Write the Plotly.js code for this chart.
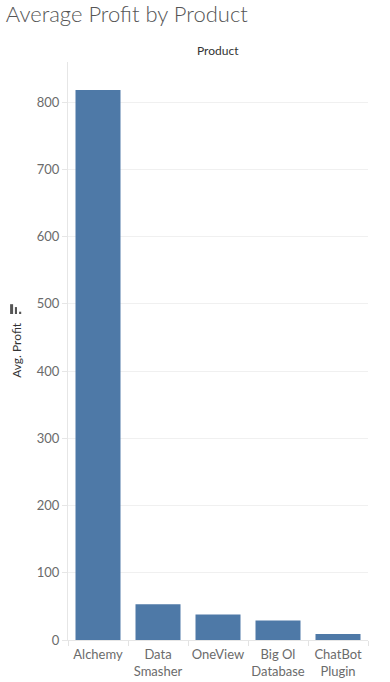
<!DOCTYPE html>
<html>
<head>
<meta charset="utf-8">
<script src="https://cdn.plot.ly/plotly-3.0.1.min.js"></script>
<style>html,body{margin:0;padding:0;background:#fff;}#chart{width:390px;height:682px;}</style>
</head>
<body>
<div id="chart"></div>
<script>
const categories = ["Alchemy", "Data Smasher", "OneView", "Big Ol Database", "ChatBot Plugin"];
const tickLabels = ["Alchemy", "Data<br>Smasher", "OneView", "Big Ol<br>Database", "ChatBot<br>Plugin"];
const avgProfit = [818, 53, 38, 29, 9];
const yTickVals = [0, 100, 200, 300, 400, 500, 600, 700, 800];
const yTickText = ["0", "100", "200", "300", "400", "500", "600", "700", "800"];

const trace = {
  type: "bar",
  x: categories,
  y: avgProfit,
  marker: {color: "#4e79a7"},
  width: 0.75,
  hoverinfo: "x+y"
};

const layout = {
  width: 390, height: 682,
  margin: {l: 68, r: 22, t: 62, b: 42},
  paper_bgcolor: "#fff", plot_bgcolor: "#fff",
  showlegend: false,
  font: {family: "Lato, 'Open Sans', sans-serif", color: "#666", size: 13},
  title: {
    text: "Average Profit by Product",
    x: 0.015, xanchor: "left", y: 0.99, yanchor: "top",
    font: {family: "Lato, 'Open Sans', sans-serif", size: 22, color: "#555", weight: 300}
  },
  xaxis: {
    type: "category",
    tickmode: "array", tickvals: categories, ticktext: tickLabels,
    tickson: "boundaries", ticks: "outside", ticklen: 5, tickcolor: "#e3e3e3",
    tickangle: 0, ticklabelstandoff: 2,
    showgrid: false, showline: true, linecolor: "#e6e6e6", linewidth: 1,
    tickfont: {size: 13, color: "#6b6b6b"},
    fixedrange: true, zeroline: false
  },
  yaxis: {
    range: [0, 859.5],
    tickmode: "array", tickvals: yTickVals, ticktext: yTickText,
    ticks: "outside", ticklen: 5, tickcolor: "#e6e6e6",
    showgrid: true, gridcolor: "#f0f0f0", gridwidth: 1,
    showline: true, linecolor: "#e6e6e6", linewidth: 1,
    zeroline: false,
    tickfont: {size: 13, color: "#6b6b6b"},
    fixedrange: true
  },
  annotations: [
    {text: "Product", xref: "paper", yref: "paper", x: 0.5, y: 1, yanchor: "bottom", yshift: 2,
     showarrow: false, font: {size: 12, color: "#333"}},
    {text: "Avg. Profit", xref: "paper", yref: "paper", x: -0.17, xanchor: "center", y: 0.502, yanchor: "middle",
     textangle: -90, showarrow: false, font: {size: 12, color: "#333"}}
  ],
  shapes: [
    {type: "rect", xref: "paper", yref: "paper", x0: -0.193, x1: -0.183, y0: 0.564, y1: 0.581, fillcolor: "#555", line: {width: 0}},
    {type: "rect", xref: "paper", yref: "paper", x0: -0.177, x1: -0.170, y0: 0.564, y1: 0.576, fillcolor: "#555", line: {width: 0}},
    {type: "rect", xref: "paper", yref: "paper", x0: -0.163, x1: -0.156, y0: 0.564, y1: 0.568, fillcolor: "#555", line: {width: 0}}
  ]
};

Plotly.newPlot("chart", [trace], layout, {displayModeBar: false, staticPlot: true});
</script>
</body>
</html>
